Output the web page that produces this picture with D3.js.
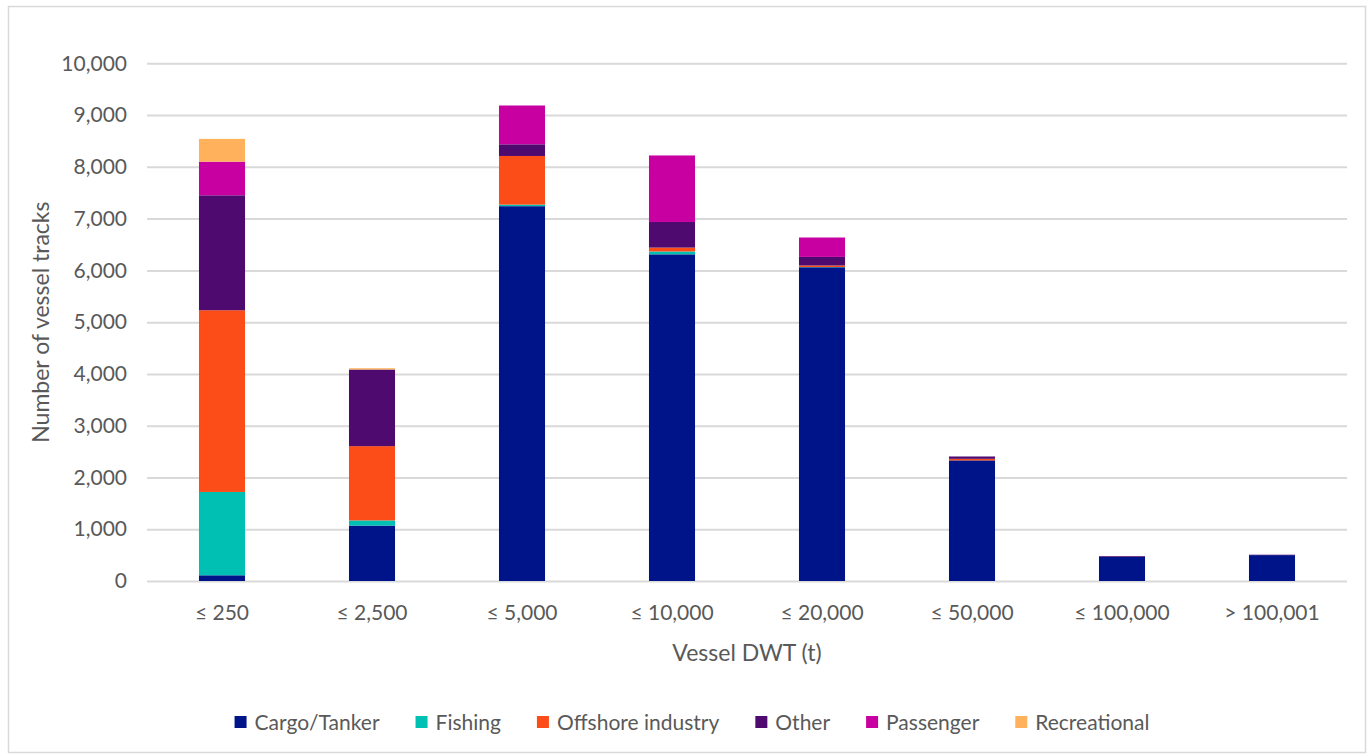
<!DOCTYPE html>
<html>
<head>
<meta charset="utf-8">
<script src="https://cdn.jsdelivr.net/npm/d3@7/dist/d3.min.js"></script>
<style>
  html, body { margin: 0; padding: 0; background: #ffffff; }
  svg { display: block; }
  text { font-family: Lato, "Open Sans", sans-serif; fill: #595959; }
</style>
</head>
<body>
<svg id="chart" width="1370" height="756"></svg>
<script>
// Vessel DWT classes
const categories = ["≤ 250", "≤ 2,500", "≤ 5,000", "≤ 10,000", "≤ 20,000", "≤ 50,000", "≤ 100,000", "> 100,001"];

// Track counts per vessel type, one value per DWT class
const cargoTanker  = [110, 1070, 7240, 6310, 6060, 2330, 465, 500];
const fishing      = [1610, 100, 30, 55, 5, 0, 0, 0];
const offshore     = [3510, 1435, 940, 75, 30, 30, 0, 0];
const other        = [2220, 1480, 225, 495, 165, 45, 15, 8];
const passenger    = [650, 0, 750, 1285, 375, 0, 0, 0];
const recreational = [440, 25, 0, 0, 0, 0, 0, 0];

const seriesNames = ["Cargo/Tanker", "Fishing", "Offshore industry", "Other", "Passenger", "Recreational"];
const seriesColors = ["#001489", "#00BFB3", "#FC4C17", "#4F0A6F", "#C800A1", "#FFB25B"];
const yTicks = [0, 1000, 2000, 3000, 4000, 5000, 6000, 7000, 8000, 9000, 10000];

const seriesValues = [cargoTanker, fishing, offshore, other, passenger, recreational];
const rows = categories.map((c, i) => {
  const r = { category: c };
  seriesNames.forEach((s, j) => { r[s] = seriesValues[j][i]; });
  return r;
});

const svg = d3.select("#chart");

// outer chart frame
svg.append("rect")
  .attr("x", 8.5).attr("y", 6.5)
  .attr("width", 1357).attr("height", 746)
  .attr("fill", "#ffffff")
  .attr("stroke", "#d9d9d9").attr("stroke-width", 1.5);

const plot = { left: 147, right: 1347, top: 63.3, bottom: 581 };

const x = d3.scaleBand()
  .domain(categories)
  .range([plot.left, plot.right])
  .paddingInner(0.693)
  .paddingOuter(0.3465);

const y = d3.scaleLinear()
  .domain([0, 10000])
  .range([plot.bottom, plot.top]);

// horizontal gridlines with tick labels
const yAxis = d3.axisLeft(y)
  .tickValues(yTicks)
  .tickFormat(d3.format(","))
  .tickSize(-(plot.right - plot.left))
  .tickPadding(20);

const gy = svg.append("g")
  .attr("transform", `translate(${plot.left},0)`)
  .call(yAxis);
gy.select(".domain").remove();
gy.selectAll(".tick line").attr("stroke", "#d9d9d9").attr("stroke-width", 2);
gy.selectAll(".tick text")
  .attr("font-size", 21)
  .attr("fill", "#595959")
  .style("font-family", "Lato, 'Open Sans', sans-serif");

// stacked bars
const stack = d3.stack().keys(seriesNames);
const layers = stack(rows);
const color = d3.scaleOrdinal().domain(seriesNames).range(seriesColors);

svg.append("g")
  .selectAll("g")
  .data(layers)
  .join("g")
  .attr("fill", d => color(d.key))
  .selectAll("rect")
  .data(d => d)
  .join("rect")
  .attr("x", d => x(d.data.category))
  .attr("width", x.bandwidth())
  .attr("y", d => y(d[1]))
  .attr("height", d => Math.max(0, y(d[0]) - y(d[1])));

// category axis labels
const xAxis = d3.axisBottom(x).tickSize(0).tickPadding(24);
const gx = svg.append("g")
  .attr("transform", `translate(0,${plot.bottom})`)
  .call(xAxis);
gx.select(".domain").remove();
gx.selectAll(".tick text")
  .attr("font-size", 21)
  .attr("fill", "#595959")
  .style("font-family", "Lato, 'Open Sans', sans-serif");

// axis titles
svg.append("text")
  .attr("x", (plot.left + plot.right) / 2)
  .attr("y", 661)
  .attr("text-anchor", "middle")
  .attr("font-size", 23)
  .text("Vessel DWT (t)");

svg.append("text")
  .attr("transform", `translate(49,${(plot.top + plot.bottom) / 2}) rotate(-90)`)
  .attr("text-anchor", "middle")
  .attr("font-size", 23)
  .text("Number of vessel tracks");

// legend, centred under the plot
const legend = svg.append("g");
const items = legend.selectAll("g")
  .data(seriesNames)
  .join("g");
items.append("rect")
  .attr("width", 12).attr("height", 12)
  .attr("y", 716)
  .attr("fill", d => color(d));
items.append("text")
  .attr("x", 20)
  .attr("y", 730)
  .attr("font-size", 21)
  .text(d => d);

let cursor = 0;
const gap = 36;
items.each(function () {
  const g = d3.select(this);
  g.attr("transform", `translate(${cursor},0)`);
  const w = 20 + g.select("text").node().getComputedTextLength();
  cursor += w + gap;
});
const totalWidth = cursor - gap;
legend.attr("transform", `translate(${692 - totalWidth / 2},0)`);
</script>
</body>
</html>
